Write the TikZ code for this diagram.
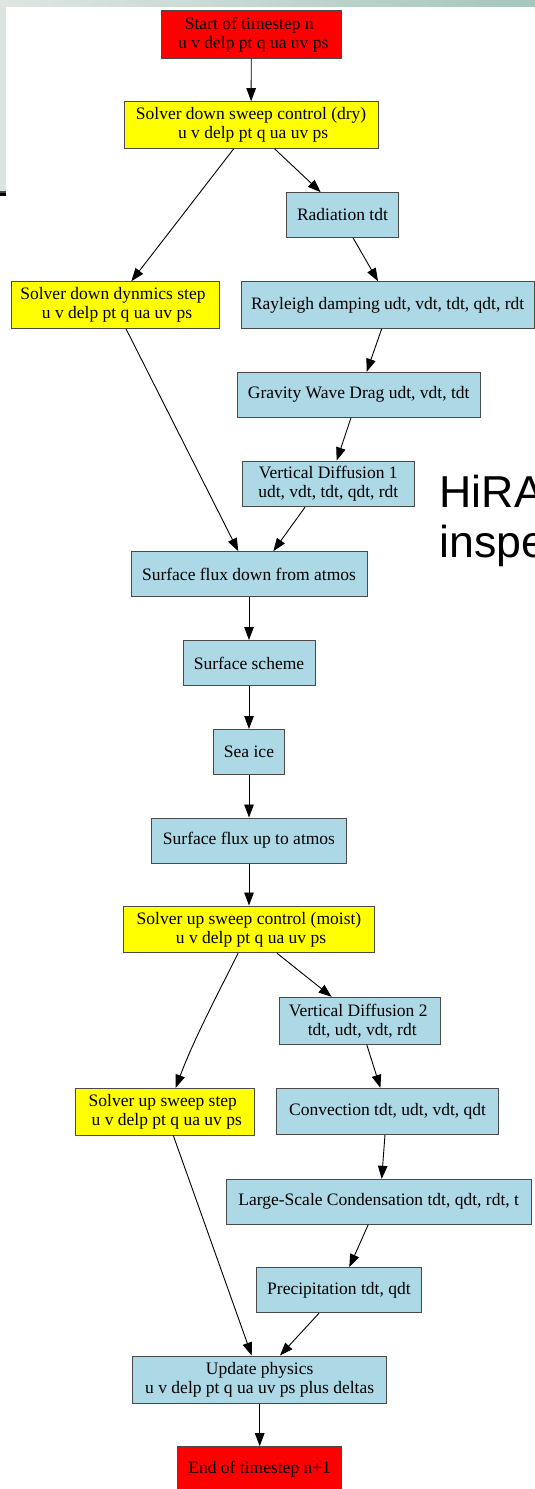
\documentclass[tikz,border=0pt]{standalone}
\usepackage{fontspec}
\setmainfont{Liberation Serif}
\newfontfamily\slidefont{Liberation Sans}
\usetikzlibrary{arrows.meta}
\definecolor{nodeblue}{HTML}{ADD8E6}
\definecolor{nodered}{HTML}{FF0000}
\definecolor{nodeyellow}{HTML}{FFFF00}
\definecolor{boxline}{HTML}{4A4A4A}
\definecolor{bandleft}{HTML}{DFE6E2}
\definecolor{bandright}{HTML}{A6C6BD}
\definecolor{sideband}{HTML}{DCE4E0}
\tikzset{
  box/.style={draw=boxline, line width=1pt, inner sep=0pt, align=center,
    font=\fontsize{17.5}{19}\selectfont},
  bluebox/.style={box, fill=nodeblue},
  redbox/.style={box, fill=nodered},
  yellowbox/.style={box, fill=nodeyellow},
  sz/.style 2 args={minimum width=#1, minimum height=#2},
  arr/.style={draw=black, line width=0.9pt,
    -{Triangle[length=13pt, width=9.5pt]}},
}
\newcommand{\ls}{\hspace*{4pt}}
\begin{document}
\begin{tikzpicture}[x=1pt, y=-1pt]
\useasboundingbox (0,0) rectangle (535,1489);
\fill[white] (0,0) rectangle (535,1489);
% slide frame remnants
\shade[left color=bandleft, right color=bandright] (0,0) rectangle (535,6);
\fill[sideband] (0,6) rectangle (6,191);
\fill[black!70] (0,191) rectangle (6,192.5);
\fill[black] (0,192.5) rectangle (6,196);
% slide title text, running off the right edge
\begin{scope}
\clip (0,0) rectangle (535,1489);
\node[anchor=base west, inner sep=0pt, font=\slidefont\fontsize{44.7}{51}\selectfont] (hira) at (439.5,507) {HiRA};
\node[anchor=base west, inner sep=0pt, font=\slidefont\fontsize{44.7}{51}\selectfont] (inspe) at (439.5,557) {inspe};
\end{scope}

% nodes
\node[redbox, sz={180pt}{47.3pt}] (start) at (251.3,34.35) {Start of timestep n\ls\\ \ls u v delp pt q ua uv ps};
\node[yellowbox, sz={254pt}{46.6pt}] (sdown) at (251.1,125) {Solver down sweep control (dry)\\ \ls u v delp pt q ua uv ps};
\node[bluebox, sz={112pt}{44.6pt}] (rad) at (342.5,215) {Radiation tdt};
\node[yellowbox, sz={208pt}{46.6pt}] (dyn) at (115,305) {Solver down dynmics step\ls\\ \ls u v delp pt q ua uv ps};
\node[bluebox, sz={293pt}{46.6pt}] (ray) at (387.6,305) {Rayleigh damping udt, vdt, tdt, qdt, rdt};
\node[bluebox, sz={243pt}{45pt}] (gwd) at (358.7,394.8) {Gravity Wave Drag udt, vdt, tdt};
\node[bluebox, sz={172pt}{45.7pt}] (vd1) at (328.3,483.85) {Vertical Diffusion 1\\ udt, vdt, tdt, qdt, rdt};
\node[bluebox, sz={236pt}{45pt}] (sflux) at (249,574.2) {Surface flux down from atmos};
\node[bluebox, sz={132pt}{45pt}] (scheme) at (249,663) {Surface scheme};
\node[bluebox, sz={71pt}{45pt}] (seaice) at (249,752) {Sea ice};
\node[bluebox, sz={195pt}{45pt}] (fluxup) at (249,840.5) {Surface flux up to atmos};
\node[yellowbox, sz={251pt}{46.7pt}] (sup) at (249,929.35) {Solver up sweep control (moist)\\ \ls u v delp pt q ua uv ps};
\node[bluebox, sz={161pt}{47pt}] (vd2) at (360.2,1020.8) {Vertical Diffusion 2\ls\\ \ls tdt, udt, vdt, rdt};
\node[yellowbox, sz={179.4pt}{46.7pt}] (upstep) at (164.8,1111.65) {Solver up sweep step\ls\\ \ls u v delp pt q ua uv ps};
\node[bluebox, sz={221.8pt}{45.7pt}] (conv) at (387.6,1111.2) {Convection tdt, udt, vdt, qdt};
\node[bluebox, sz={304.7pt}{44.7pt}] (lsc) at (378.7,1201.65) {Large-Scale Condensation tdt, qdt, rdt, t};
\node[bluebox, sz={164.3pt}{45pt}] (prec) at (338.9,1290.2) {Precipitation tdt, qdt};
\node[bluebox, sz={254pt}{47.3pt}] (update) at (259.7,1379.65) {Update physics\\ u v delp pt q ua uv ps plus deltas};
\node[redbox, sz={164pt}{45pt}] (end) at (259.7,1469.2) {End of timestep n+1};

% connectors
\draw[arr] (start.south) -- (sdown.north);
\draw[arr] ([xshift=23.5pt]sdown.south) -- ([xshift=-21.8pt]rad.north);
\draw[arr] ([xshift=-17.4pt]sdown.south) -- ([xshift=16.4pt]dyn.north);
\draw[arr] ([xshift=10.5pt]rad.south) -- ([xshift=-9.6pt]ray.north);
\draw[arr] ([xshift=-5.9pt]ray.south) -- ([xshift=8pt]gwd.north);
\draw[arr] ([xshift=-7.7pt]gwd.south) -- ([xshift=8.4pt]vd1.north);
\draw[arr] ([xshift=-23.3pt]vd1.south) -- ([xshift=24.3pt]sflux.north);
\draw[arr] ([xshift=11pt]dyn.south) -- ([xshift=-10.7pt]sflux.north);
\draw[arr] (sflux.south) -- (scheme.north);
\draw[arr] (scheme.south) -- (seaice.north);
\draw[arr] (seaice.south) -- (fluxup.north);
\draw[arr] (fluxup.south) -- (sup.north);
\draw[arr] ([xshift=28pt]sup.south) -- ([xshift=-28.6pt]vd2.north);
\draw[arr] ([xshift=-10.9pt]sup.south) .. controls +(-24,48) and +(18,-48) .. ([xshift=10.9pt]upstep.north);
\draw[arr] ([xshift=6.6pt]vd2.south) -- ([xshift=-7.2pt]conv.north);
\draw[arr] ([xshift=-2.6pt]conv.south) -- ([xshift=3pt]lsc.north);
\draw[arr] ([xshift=-10.4pt]lsc.south) -- ([xshift=10.4pt]prec.north);
\draw[arr] ([xshift=-19.9pt]prec.south) -- ([xshift=20.3pt]update.north);
\draw[arr] ([xshift=8.5pt]upstep.south) -- ([xshift=-8pt]update.north);
\draw[arr] (update.south) -- (end.north);
\end{tikzpicture}
\end{document}
